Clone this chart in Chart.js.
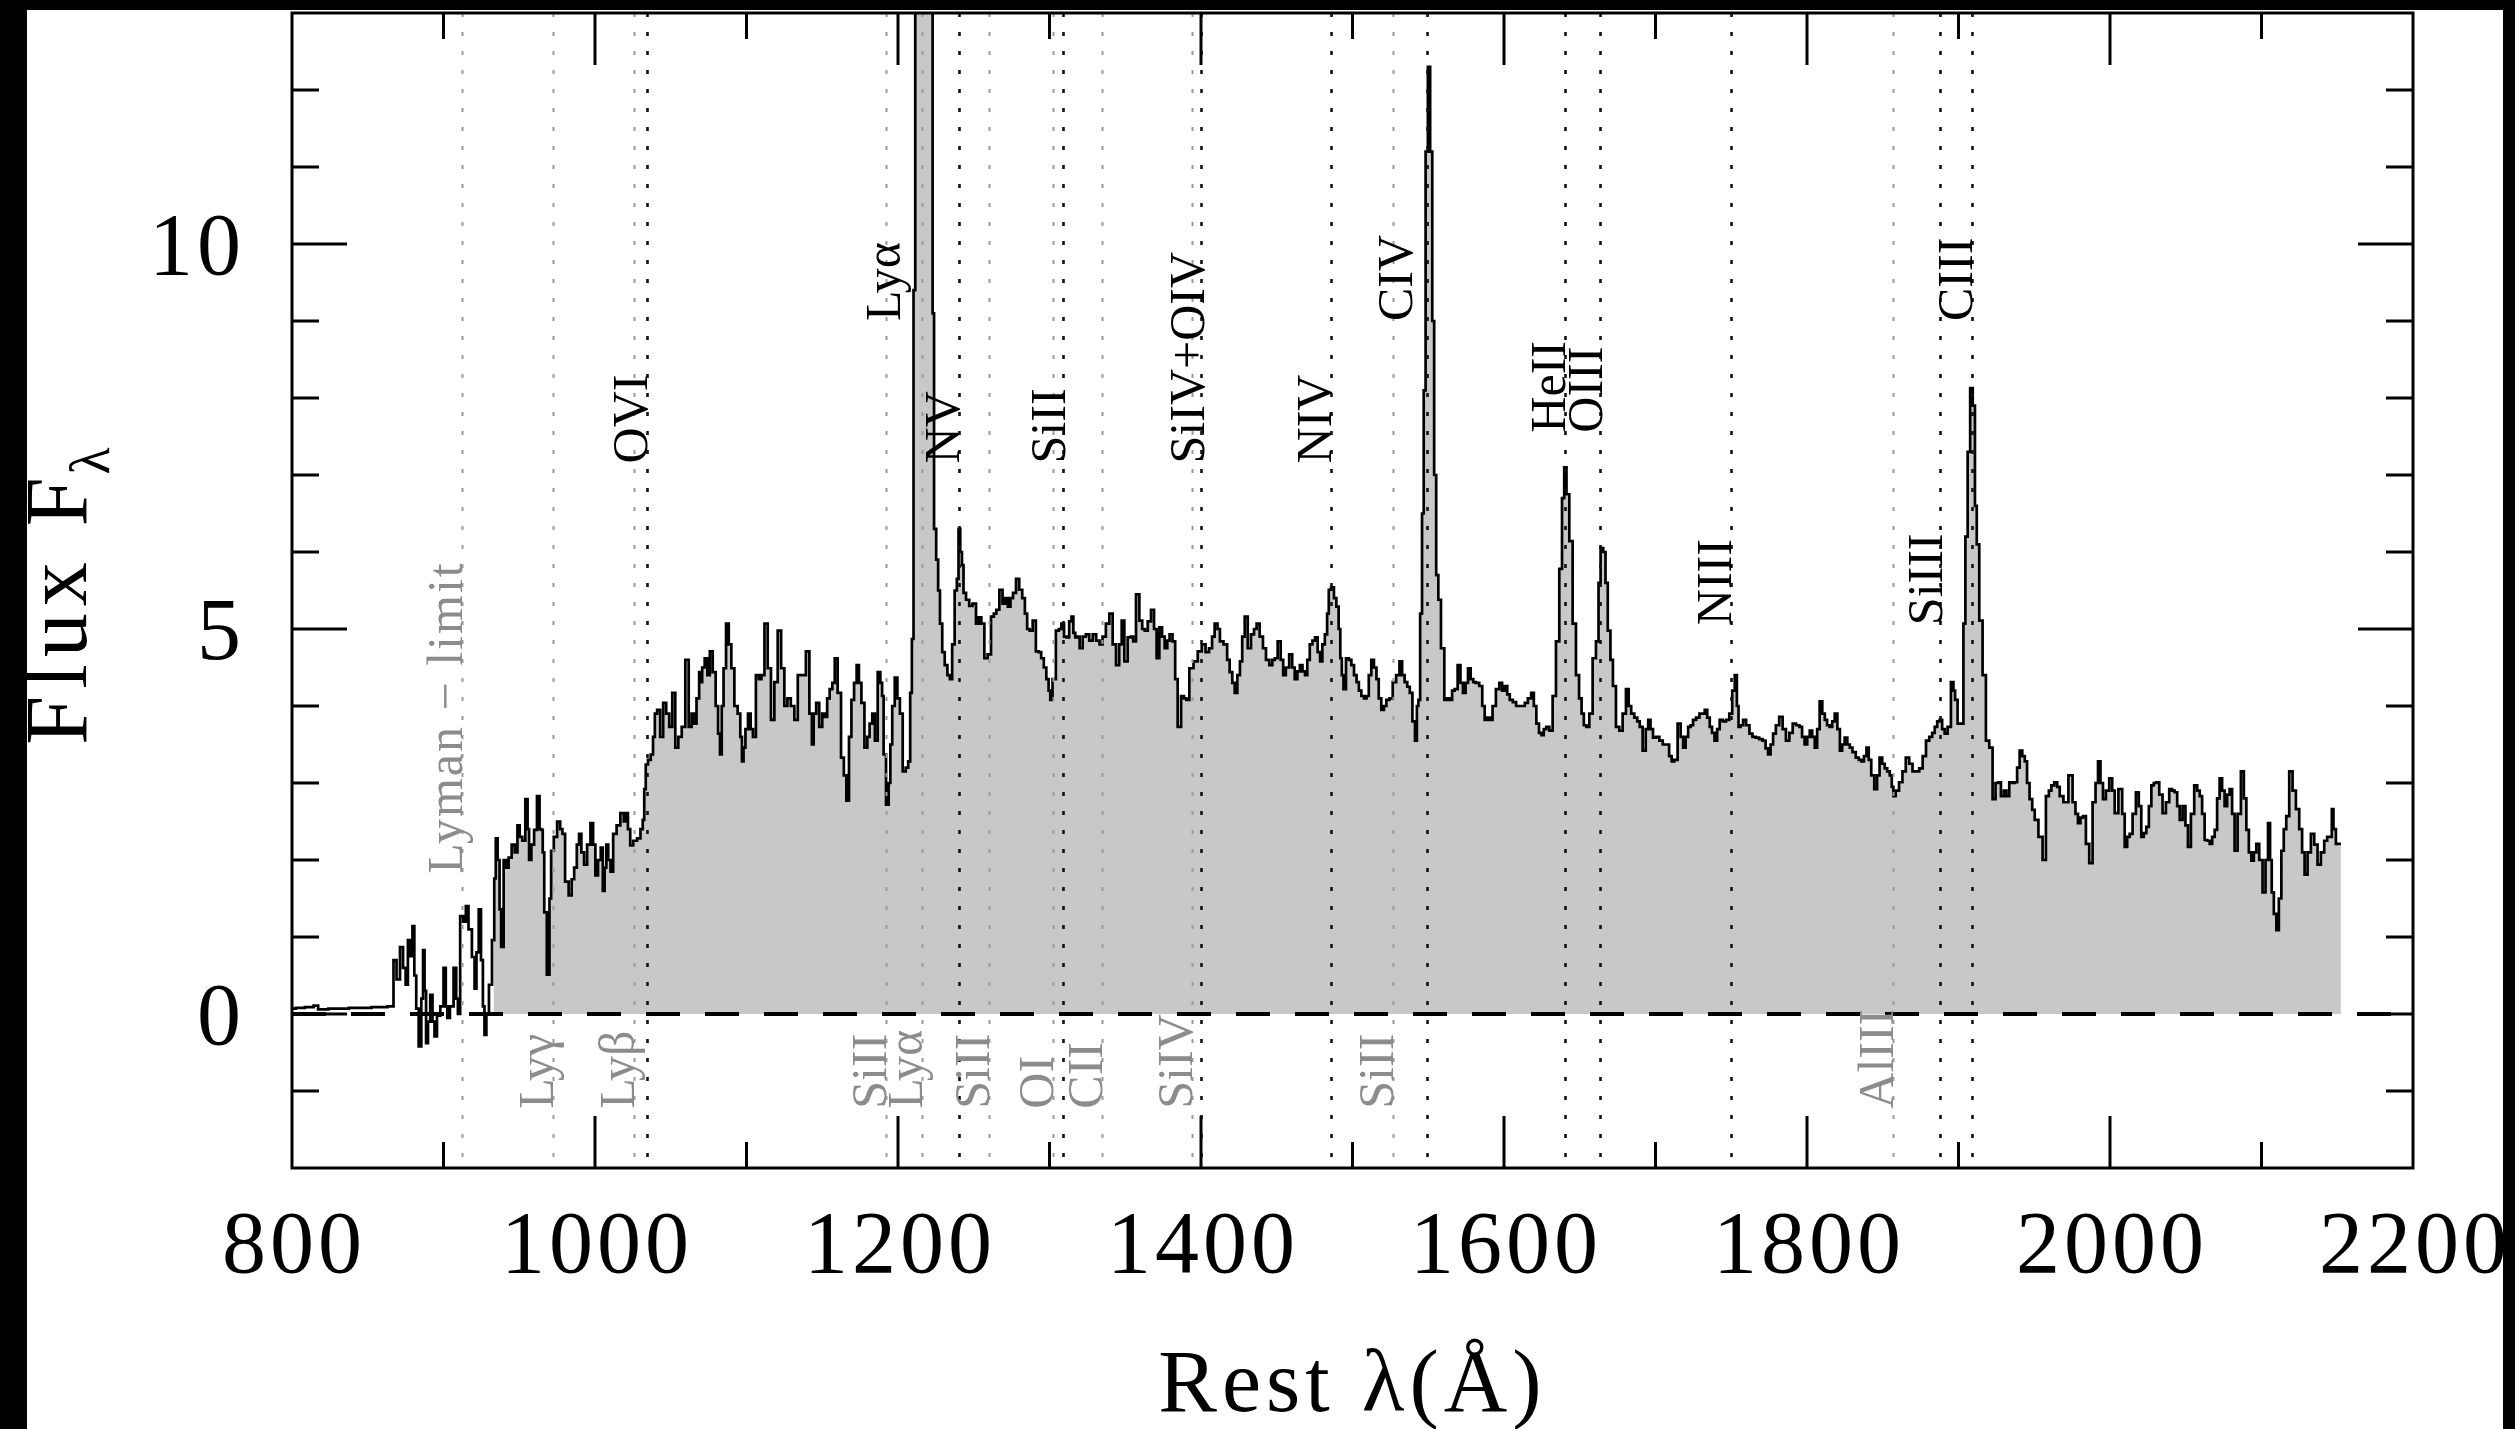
<!DOCTYPE html>
<html lang="en">
<head>
<meta charset="UTF-8">
<title>Rest-frame composite spectrum</title>
<script src="https://cdn.jsdelivr.net/npm/chart.js"></script>
<style>
  html, body { margin: 0; padding: 0; background: #fff; overflow: hidden; }
  canvas { display: block; }
</style>
</head>
<body>
<canvas id="spec" width="2515" height="1429"></canvas>
<script>
// blueward of the Lyman limit: drawn as a bare line, no fill
const blueSpec = [
  [800,0.07],[805,0.08],[812,0.09],[816.5,0.11],[818,0.06],[830,0.07],[845,0.08],[860,0.09],[866,0.1],
  [868,0.7],[870,0.45],[872.6,0.87],[874,0.6],[876,0.38],[877,0.96],[879,0.75],[880,1.14],[881.5,0.5],
  [882.5,0.07],[884.7,-0.42],[886,0.2],[887,0.83],[888,0.3],[889,-0.38],[890.5,-0.1],[892,0.25],
  [893.5,-0.1],[894.6,-0.29],[896.8,-0.02],[899,0.1],[901,0.6],[902,0.1],[903,-0.05],[905.5,0.1],
  [907.8,0.6],[909,0.2],[910,0.0],[912,1.27],[914,1.2],[915.5,1.4],[917.5,1.1],[920,0.74],[921,0.33],
  [922.5,0.8],[924,1.36],[925.5,0.7],[926.5,0.1],[927.6,-0.27],[929,0.0],[931,0.38],[933,0.96]
];

// main spectrum, filled down to zero
const spec = [
  [933,0.96],[934,1.76],[935,2.28],[936.5,2.0],[937.5,1.36],[938.6,0.87],[940.8,2.0],[942,1.9],[944,2.03],
  [946,2.2],[948,2.1],[949.6,2.45],[951,2.3],[953,2.25],[955,2.79],[956,2.4],[957,2.0],[959,2.2],
  [960.6,2.39],[962.8,2.83],[964,2.4],[965,2.39],[966,2.1],[967,1.32],[969.4,0.51],[970.5,1.5],
  [971.6,2.12],[974,2.3],[976,2.5],[978,2.4],[979,2.34],[981.5,1.72],[983.7,1.54],[985.5,1.75],[987,1.9],
  [989,2.2],[990,2.34],[992,2.1],[993.6,1.94],[996,2.2],[998,2.48],[999.5,2.2],[1001,1.8],[1003,2.0],
  [1004.6,2.16],[1005.7,1.6],[1007,1.9],[1008,2.2],[1009.5,2.0],[1011,1.85],[1013,2.34],[1015.5,2.45],
  [1018,2.61],[1020,2.5],[1021,2.61],[1022.5,2.4],[1024,2.19],[1026.5,2.25],[1029,2.28],[1031,2.4],
  [1032,2.52],[1033,2.92],[1034,3.24],[1036,3.3],[1037.6,3.37],[1039,3.6],[1040,3.9],[1042,3.95],
  [1044,3.6],[1046,4.04],[1048,3.9],[1050,3.73],[1052,4.17],[1054,3.46],[1056,3.6],[1058.5,3.73],
  [1060.7,4.6],[1063,3.73],[1064.5,3.9],[1066,3.77],[1068,4.1],[1069.5,4.44],
  [1070,4.31],[1071.5,4.5],[1073.3,4.62],[1075,4.4],[1076.6,4.71],[1078.8,4.44],[1080.5,4.0],[1082,3.64],
  [1083,3.37],[1084.3,4.0],[1085.4,4.49],[1087.6,5.07],[1089,4.8],[1091,4.49],[1093,4.0],[1095.3,3.9],
  [1096.5,3.6],[1097.5,3.28],[1098.6,3.46],[1100,3.7],[1102,3.9],[1103.5,3.7],[1105,3.6],[1107.4,4.4],
  [1109,4.35],[1110.7,4.4],[1113,5.07],[1115,4.49],[1117.3,3.82],[1119.5,4.31],[1121.7,4.98],[1124,4.49],
  [1126,4.0],[1128,4.1],[1130.5,4.0],[1132.7,3.82],[1135,4.4],[1138,4.4],[1140.4,4.71],[1142.6,3.9],
  [1143.7,3.5],[1145,3.9],[1147,4.04],[1149,3.73],[1151,3.9],[1152.5,3.86],[1154,4.1],[1155.8,4.22],
  [1157.5,4.3],[1159,4.62],[1161.3,4.17],[1163.5,3.33],[1165,3.1],[1166.8,2.77],[1168.5,3.6],[1170,4.08],
  [1172,4.3],[1173.4,4.53],[1175,4.3],[1176.7,4.04],[1179,3.46],[1180.5,3.6],[1182,3.77],[1184,3.9],
  [1185.5,3.55],[1187.7,4.44],[1189,4.3],[1190,4.13],[1191,3.37],[1193.2,2.72],[1194.5,3.0],[1195.4,3.5],
  [1197,4.0],[1198.7,4.37],[1200.5,4.1],[1202,3.9],[1204.2,3.15],[1206,3.2],[1207.5,3.28],[1208.6,4.17],
  [1209.7,4.87],[1210.8,9.4],[1212,16],[1222.5,16],[1223.2,9.1],[1224.4,6.3],[1226,5.9],[1227,5.5],
  [1228.4,5.07],[1230,4.7],[1231.7,4.53],[1233.5,4.4],[1235,4.35],[1236.5,4.8],[1238.3,5.5],[1239.4,5.65],
  [1240.5,6.3],[1241.7,6.0],[1242.7,5.83],[1243.8,5.47],[1246,5.38],[1248,5.3],[1250.4,5.33],[1252.6,5.07],
  [1254,5.15],[1256,5.07],[1258,4.62],[1260.3,4.67],[1262.5,5.16],[1264,5.2],[1265.8,5.25],[1268,5.51],
  [1270,5.33],[1271.5,5.4],[1273.5,5.29],[1275,5.4],[1276.8,5.47],[1279,5.65],[1281,5.51],[1283,5.4],
  [1284.5,5.2],[1286,5.0],[1287.8,4.98],[1290,5.11],[1292,4.71],[1293.5,4.7],[1295.5,4.62],[1297,4.5],
  [1298.8,4.35],[1300,4.2],[1301,4.08],[1303,4.35],[1305.4,4.98],[1307,5.0],[1308.7,5.07],[1310.5,4.9],
  [1312,4.89],[1314,5.1],[1315,5.16],[1316.5,4.95],[1317.5,4.89],[1319,4.9],[1320.8,4.75],[1323,4.9],
  [1325,4.93],[1327.5,4.85],[1329.6,4.93],[1332,4.85],[1334,4.8],[1336,4.9],[1338.4,5.07],
  [1340.6,5.2],[1342.8,4.8],[1345,4.53],[1347,4.8],[1348.3,5.11],[1350.5,4.58],[1352.7,4.89],[1354.5,4.9],
  [1356,4.84],[1358.2,5.45],[1360.4,5.11],[1362,5.0],[1363.7,4.98],[1366,5.1],[1368,5.25],[1370,5.0],
  [1371.4,4.62],[1373.6,5.02],[1375,4.9],[1377,4.75],[1378.5,4.85],[1380,4.93],[1382.4,4.84],[1383.5,4.35],
  [1385.7,3.73],[1388,4.13],[1389.5,4.1],[1391.2,4.08],[1393.4,4.49],[1396.7,4.58],[1399,4.71],[1402,4.8],
  [1404,4.7],[1406.6,4.75],[1408,4.9],[1410,5.07],[1411.8,5.0],[1413.2,4.84],[1416.5,4.8],[1418,4.6],
  [1419.8,4.44],[1421.5,4.3],[1423,4.17],[1425,4.4],[1426.4,4.58],[1428,4.9],[1429.7,5.16],[1432,4.75],
  [1434,4.93],[1436,5.0],[1437.4,5.07],[1440,4.9],[1441.8,4.75],[1444,4.6],[1446.2,4.53],[1448,4.6],
  [1449.5,4.62],[1451.7,4.84],[1453.5,4.6],[1455,4.4],[1457,4.5],[1459.4,4.67],[1461,4.5],[1462.7,4.35],
  [1464.5,4.45],[1466,4.53],[1468,4.45],[1469.3,4.4],[1471,4.6],[1472.6,4.8],[1474.5,4.85],[1476,4.89],
  [1478,4.7],[1479.2,4.58],[1481,4.8],[1482.5,4.93],[1484,5.2],[1484.7,5.51],[1487,5.54],[1488.5,5.4],
  [1490.2,5.29],[1491.5,5.0],[1492.4,4.62],[1493.5,4.4],[1494.6,4.22],[1496.8,4.62],[1498.5,4.6],[1500,4.53],
  [1502,4.4],[1503.4,4.31],[1505,4.2],[1506.7,4.13],[1508.5,4.1],[1510,4.13],[1511.5,4.4],[1513.3,4.6],
  [1515,4.5],[1516.6,4.35],[1518,4.1],[1520,3.95],[1521.5,4.0],[1523.2,4.08],[1525.5,4.1],[1527.6,4.31],
  [1530,4.4],[1532,4.58],[1533.5,4.4],[1535.3,4.31],[1537,4.25],[1538.6,4.17],[1540.5,3.8],[1542,3.55],
  [1543,4.0],[1544,4.08],[1545.3,5.2],[1546.5,6.5],[1547.5,8.1],[1549,11.2],[1550.5,12.3],[1552,11.2],
  [1553.3,9.0],[1554.5,7.0],[1556,5.7],[1557.3,5.38],[1559.5,4.75],[1561.7,4.08],[1563,4.1],[1565,4.08],
  [1566.5,4.2],[1568.3,4.22],[1570.5,4.53],[1572,4.3],[1573.8,4.17],[1575.5,4.3],[1577,4.49],[1579,4.35],
  [1580.4,4.31],[1582.5,4.3],[1584.8,4.26],[1586.5,4.0],[1588,3.82],[1590,3.85],[1591.4,3.82],[1593.5,4.0],
  [1595.8,4.22],[1598,4.3],[1599.5,4.2],[1601.3,4.26],[1603,4.15],[1604.6,4.08],[1607,4.05],[1609,4.0],
  [1611.2,4.0],[1613,4.0],[1614.5,4.04],[1617,4.1],[1618.9,4.17],[1620.5,4.0],[1622.2,3.77],[1624,3.65],
  [1625.5,3.62],[1627,3.7],[1628.8,3.73],[1631,3.68],[1633.2,4.13],[1635.4,4.84],[1637.6,5.78],[1639,6.7],
  [1640.5,7.1],[1642,6.75],[1644.2,6.14],[1646.4,5.07],[1648.6,4.4],[1650.5,4.1],[1651.9,3.9],[1653.5,3.75],
  [1655.2,3.73],[1657.4,3.9],[1659.6,4.62],[1661.8,4.84],[1663,5.6],[1664.5,6.05],[1666.5,6.0],[1667.5,5.6],
  [1669.5,4.98],[1671,4.6],[1672.8,4.26],[1675,3.73],[1677.2,3.68],[1679.4,3.9],[1681.6,4.22],[1683,4.0],
  [1684.9,3.9],[1687.1,3.85],[1688.8,3.8],[1690.4,3.73],[1692.6,3.42],[1694.5,3.7],[1695.9,3.82],[1697.5,3.7],
  [1699.2,3.59],[1701.5,3.6],[1703.6,3.55],[1706,3.5],[1708,3.5],[1710,3.35],[1711.3,3.28],[1713.5,3.3],
  [1715.7,3.77],[1717.5,3.6],[1719,3.46],[1720.8,3.6],[1722.3,3.73],[1724,3.75],[1725.6,3.82],[1728,3.85],
  [1730,3.9],[1731.7,3.9],[1733.3,3.95],[1735,3.85],[1736.6,3.73],[1738,3.65],[1739.9,3.55],[1741.5,3.7],
  [1743.2,3.82],[1745.5,3.8],[1747.6,3.82],[1749.8,3.9],[1751.5,4.2],[1753.1,4.4],[1754.3,4.0],[1755.3,3.73],
  [1757,3.75],[1758.6,3.82],[1761,3.75],[1763,3.64],[1765,3.6],[1767.4,3.59],[1769.5,3.57],[1771.8,3.55],
  [1773.5,3.45],[1775.1,3.37],[1776.8,3.5],[1778.4,3.64],[1780.5,3.75],[1782.8,3.86],[1785,3.7],[1787.2,3.55],
  [1789.5,3.65],[1791.6,3.77],[1794,3.75],[1796,3.73],[1797.5,3.6],[1799.3,3.5],[1801,3.6],[1802.6,3.68],
  [1804.3,3.6],[1805.9,3.46],[1807.5,3.7],[1809.2,4.06],[1811,3.9],[1812.5,3.82],[1814,3.75],[1815.8,3.73],
  [1817.5,3.8],[1819.1,3.9],[1821,3.7],[1822.4,3.42],[1824,3.5],[1825.7,3.59],[1827.5,3.5],[1829,3.46],
  [1831,3.4],[1833.4,3.33],[1835,3.3],[1836.7,3.28],[1838.5,3.35],[1840,3.46],[1841.5,3.3],[1843.3,3.1],
  [1845.5,2.92],[1847,3.1],[1848.8,3.33],[1850.5,3.25],[1852.1,3.19],[1853.8,3.15],[1855.4,3.1],[1856.5,2.95],
  [1857.6,2.83],[1859.5,2.9],[1862,3.01],[1864,3.15],[1866.4,3.33],[1868.5,3.25],[1870.8,3.15],[1873,3.15],
  [1875.2,3.19],[1877.5,3.35],[1879.6,3.55],[1881.8,3.6],
  [1883.5,3.65],[1885.1,3.73],[1886.8,3.8],[1888.4,3.82],[1890,3.7],[1891.7,3.64],[1893.9,3.73],[1896.1,4.31],
  [1897.2,4.2],[1898.3,4.08],[1900.5,3.77],[1902.7,3.77],[1903.8,5.07],[1905.3,6.2],[1906.8,7.3],[1908.6,8.13],
  [1910.2,7.9],[1911.5,6.6],[1912.6,6.1],[1914.8,5.11],[1917,4.4],[1919.2,3.55],[1921.4,3.46],[1923.6,2.79],
  [1925.3,3.0],[1926.9,3.01],[1929.1,2.83],[1930.8,2.9],[1932.4,2.83],[1934.6,3.01],[1936.3,3.0],[1937.9,3.01],
  [1939.5,3.2],[1941.2,3.42],[1943,3.35],[1944.5,3.28],[1946,3.0],[1947.8,2.79],[1949.5,2.65],[1951.1,2.52],
  [1954.4,2.3],[1956.6,2.0],[1958.8,2.83],[1960.5,2.9],[1962.1,2.97],[1964.3,3.01],[1966,2.95],[1967.6,2.83],
  [1970.9,2.75],[1974.2,3.1],[1976.4,2.75],[1978,2.6],[1979.7,2.48],[1981.3,2.55],[1983,2.57],[1985.2,2.21],
  [1987.4,1.96],[1989.6,2.75],[1991.3,3.0],[1992.9,3.28],[1994.5,3.0],[1996.2,2.79],[1998.4,2.9],[2000.6,3.06],
  [2002.3,2.9],[2003.9,2.61],[2007.2,2.92],[2008.9,2.6],[2010.5,2.17],[2012.2,2.3],[2013.8,2.34],[2016,2.6],
  [2018.2,2.88],[2019.8,2.7],[2021.5,2.3],[2023.1,2.35],[2024.8,2.43],[2026.5,2.7],[2028.1,2.97],[2029.7,3.0],
  [2031.4,3.01],[2033.6,2.85],[2035.8,2.61],[2038,2.75],[2040.2,2.92],[2041.8,2.9],[2043.5,2.88],[2045.2,2.7],
  [2046.8,2.52],[2049,2.7],[2050.6,2.45],[2052.3,2.17],[2054.5,2.6],[2056.7,2.97],[2058.4,2.9],[2060,2.83],
  [2061.6,2.6],[2063.3,2.26],[2065,2.25],[2066.6,2.21],[2068.3,2.3],[2069.9,2.39],[2071.5,2.8],[2073.2,3.06],
  [2074.8,2.9],[2076.5,2.7],[2078.1,2.85],[2079.8,2.92],[2081.4,2.6],[2083.1,2.12],[2085.3,2.6],[2087.5,3.15],
  [2089.2,2.8],[2090.8,2.39],[2092.5,2.1],[2094.1,1.99],[2095.8,2.1],[2097.4,2.21],[2099.6,2.0],[2101.8,1.58],
  [2103.5,2.0],[2105.1,2.48],[2106.2,2.0],[2107.3,1.58],[2109,1.3],[2110.6,1.09],[2112.3,1.5],[2113.9,2.12],
  [2115.5,2.4],[2117.2,2.57],[2119.4,3.15],[2121.6,2.9],[2123.8,2.66],[2126,2.4],[2127.6,2.1],[2129.3,1.81],
  [2131.5,2.1],[2133.7,2.34],[2135.9,2.2],[2138.1,1.94],[2140.3,2.1],[2142.5,2.25],[2144.2,2.3],[2145.8,2.3],
  [2147,2.66],[2148,2.4],[2150.2,2.21],[2152.4,2.21]
];

// emission / absorption line markers (rest wavelength, Angstrom)
const strongLam = [1034, 1240, 1309, 1400, 1486, 1549, 1640, 1663.5, 1750, 1888, 1909];
const weakLam = [912, 972.5, 1025.7, 1192, 1215.7, 1260, 1302.2, 1334.5, 1393.8, 1526.7, 1857];

const upperText = ['OVI', 'Lyα', 'NV', 'SiII', 'SiIV+OIV', 'NIV', 'CIV', 'HeII', 'OIII', 'NIII', 'SiIII', 'CIII'];
const upperLam  = [1034, 1201, 1240, 1310, 1402, 1486, 1539, 1640, 1665, 1750, 1889, 1909];
const upperY    = [7.15, 9.0, 7.15, 7.15, 7.15, 7.15, 9.0, 7.55, 7.55, 5.05, 5.05, 9.0];

const lowerText = ['Lyγ', 'Lyβ', 'SiII', 'Lyα', 'SiII', 'OI', 'CII', 'SiIV', 'SiII', 'AlIII'];
const lowerLam  = [972.5, 1025.7, 1192, 1215.7, 1260, 1302.2, 1334.5, 1393.8, 1526.7, 1857];
const lowerY = -1.23;

const limitText = 'Lyman − limit';
const limitLam = 912;
const limitY = 1.82;

const xTickLabels = ['800', '1000', '1200', '1400', '1600', '1800', '2000', '2200'];
const yTickLabels = ['0', '5', '10'];

const SERIF = '"Liberation Serif", "DejaVu Serif", serif';
const GREY_TXT = '#8c8c8c';

const decor = {
    id: 'decor',
    afterDatasetsDraw(chart) {
        const { ctx, chartArea: a, scales: { x, y } } = chart;
        ctx.save();
        ctx.lineCap = 'butt';

        // dotted marker lines
        ctx.setLineDash([4, 15]);
        const vline = (l, col, w) => {
            const px = Math.round(x.getPixelForValue(l)) + 0.5;
            ctx.strokeStyle = col;
            ctx.lineWidth = w;
            ctx.beginPath();
            ctx.moveTo(px, a.top);
            ctx.lineTo(px, a.bottom);
            ctx.stroke();
        };
        weakLam.forEach(l => vline(l, '#9a9a9a', 2));
        strongLam.forEach(l => vline(l, '#111', 2.6));

        // zero level
        const y0 = y.getPixelForValue(0);
        ctx.setLineDash([34, 25]);
        ctx.strokeStyle = '#000';
        ctx.lineWidth = 4;
        ctx.beginPath();
        ctx.moveTo(a.left, y0);
        ctx.lineTo(a.right, y0);
        ctx.stroke();
        ctx.setLineDash([]);

        // rotated line labels
        const vtext = (t, l, v, col, spacing) => {
            ctx.save();
            ctx.translate(x.getPixelForValue(l), y.getPixelForValue(v));
            ctx.rotate(-Math.PI / 2);
            ctx.fillStyle = col;
            ctx.font = '50px ' + SERIF;
            ctx.letterSpacing = spacing || '0px';
            ctx.textAlign = 'left';
            ctx.textBaseline = 'alphabetic';
            ctx.fillText(t, 0, 0);
            ctx.restore();
        };
        upperText.forEach((t, i) => vtext(t, upperLam[i], upperY[i], '#000'));
        lowerText.forEach((t, i) => vtext(t, lowerLam[i], lowerY, GREY_TXT));
        vtext(limitText, limitLam, limitY, GREY_TXT, '2px');
        ctx.restore();
    },
    afterDraw(chart) {
        const { ctx, chartArea: a, scales: { x, y } } = chart;
        ctx.save();

        // frame
        ctx.strokeStyle = '#000';
        ctx.lineWidth = 3;
        ctx.strokeRect(a.left, a.top, a.right - a.left, a.bottom - a.top);

        // inward ticks on all four sides
        ctx.beginPath();
        for (let v = 900; v < 2200; v += 100) {
            const px = x.getPixelForValue(v);
            const len = v % 200 === 0 ? 52 : 26;
            ctx.moveTo(px, a.bottom); ctx.lineTo(px, a.bottom - len);
            ctx.moveTo(px, a.top); ctx.lineTo(px, a.top + len);
        }
        for (let v = -1; v < 13; v++) {
            const py = y.getPixelForValue(v);
            const len = v % 5 === 0 ? 55 : 27;
            ctx.moveTo(a.left, py); ctx.lineTo(a.left + len, py);
            ctx.moveTo(a.right, py); ctx.lineTo(a.right - len, py);
        }
        ctx.stroke();

        // tick labels
        ctx.fillStyle = '#000';
        ctx.font = '88px ' + SERIF;
        ctx.letterSpacing = '4px';
        ctx.textAlign = 'center';
        ctx.textBaseline = 'alphabetic';
        xTickLabels.forEach(t => {
            ctx.fillText(t, x.getPixelForValue(Number(t)) + 2, a.bottom + 104);
        });
        ctx.textAlign = 'right';
        yTickLabels.forEach(t => {
            ctx.fillText(t, a.left - 47, y.getPixelForValue(Number(t)) + 30);
        });

        // axis titles
        ctx.font = '88px ' + SERIF;
        ctx.letterSpacing = '5px';
        ctx.textAlign = 'center';
        ctx.fillText('Rest λ(Å)', (a.left + a.right) / 2, a.bottom + 243);

        ctx.save();
        ctx.letterSpacing = '7px';
        ctx.font = '88px ' + SERIF;
        const main = 'Flux F';
        const wMain = ctx.measureText(main).width;
        ctx.font = '56px ' + SERIF;
        const wSub = ctx.measureText('λ').width;
        const total = wMain + wSub;
        ctx.translate(a.left - 206, (a.top + a.bottom) / 2);
        ctx.rotate(-Math.PI / 2);
        ctx.textAlign = 'left';
        ctx.font = '88px ' + SERIF;
        ctx.fillText(main, -total / 2, 0);
        ctx.font = '56px ' + SERIF;
        ctx.fillText('λ', -total / 2 + wMain - 4, 23);
        ctx.restore();

        // black page margins of the scanned figure
        ctx.letterSpacing = '0px';
        ctx.fillStyle = '#000';
        ctx.fillRect(0, 0, 27, chart.height);
        ctx.fillRect(0, 0, chart.width, 10);
        ctx.fillRect(2503, 0, chart.width - 2503, chart.height);
        ctx.restore();
    }
};

const toXY = arr => arr.map(([l, f]) => ({ x: l, y: f }));

new Chart(document.getElementById('spec').getContext('2d'), {
    type: 'line',
    data: {
        datasets: [
            {
                data: toXY(blueSpec),
                borderColor: '#000',
                borderWidth: 2.7,
                pointRadius: 0,
                stepped: 'middle',
                fill: false
            },
            {
                data: toXY(spec),
                borderColor: '#000',
                borderWidth: 2.7,
                backgroundColor: '#c8c8c8',
                pointRadius: 0,
                stepped: 'middle',
                fill: 'origin'
            }
        ]
    },
    options: {
        responsive: false,
        animation: false,
        layout: { padding: { left: 292, right: 2515 - 2413, top: 13, bottom: 1429 - 1168 } },
        plugins: { legend: { display: false }, tooltip: { enabled: false } },
        scales: {
            x: { type: 'linear', min: 800, max: 2200, display: false },
            y: { min: -2, max: 13, display: false }
        }
    },
    plugins: [decor]
});
</script>
</body>
</html>
